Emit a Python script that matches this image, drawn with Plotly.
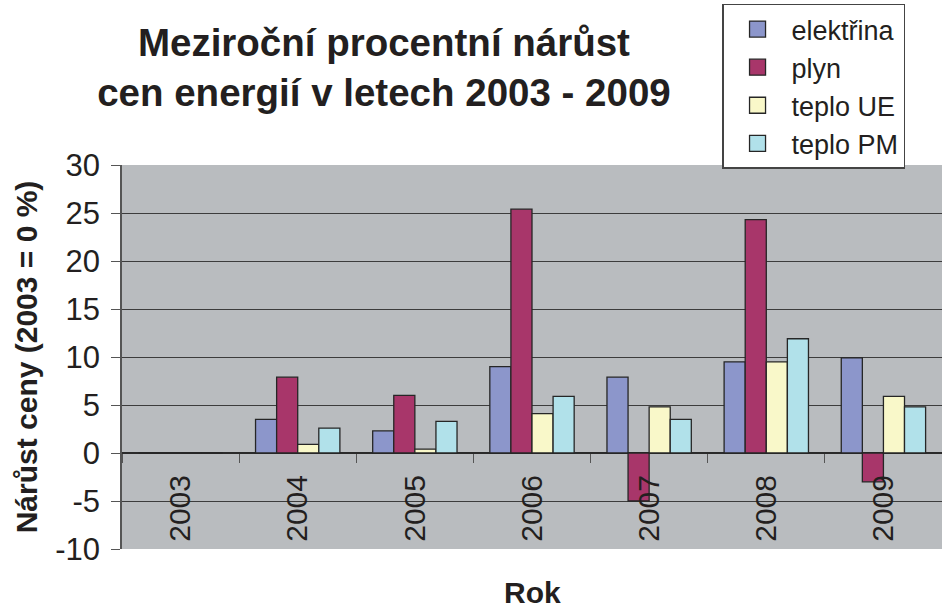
import plotly.graph_objects as go

years = ["2003", "2004", "2005", "2006", "2007", "2008", "2009"]
elektrina = [0, 3.5, 2.3, 9.0, 7.9, 9.5, 9.9]
plyn = [0, 7.9, 6.0, 25.4, -5.0, 24.3, -3.0]
teplo_ue = [0, 0.9, 0.4, 4.1, 4.8, 9.5, 5.9]
teplo_pm = [0, 2.6, 3.3, 5.9, 3.5, 11.9, 4.8]

series_names = ["elektřina", "plyn", "teplo UE", "teplo PM"]
series_colors = ["#8c96cb", "#a8366a", "#f9f8c9", "#b1e1ea"]
series_values = [elektrina, plyn, teplo_ue, teplo_pm]

y_tick_vals = [-10, -5, 0, 5, 10, 15, 20, 25, 30]
y_tick_labels = ["-10", "-5", "0", "5", "10", "15", "20", "25", "30"]

FONT = "Liberation Sans, Arial, sans-serif"
INK = "#231f20"
EDGE = "#262626"

fig = go.Figure()
for name, color, vals in zip(series_names, series_colors, series_values):
    fig.add_trace(go.Bar(
        x=years, y=vals, name=name, showlegend=False, legendgroup=name,
        marker=dict(color=color, line=dict(color=EDGE, width=1.3)),
    ))
# legend entries with larger square swatches
for name, color in zip(series_names, series_colors):
    fig.add_trace(go.Scatter(
        x=[None], y=[None], mode="markers", name=name, legendgroup=name,
        marker=dict(symbol="square", size=22, color=color,
                    line=dict(color=EDGE, width=1.3)),
        hoverinfo="skip",
    ))

fig.update_layout(
    width=942, height=610,
    margin=dict(l=122, r=0, t=165, b=61),
    paper_bgcolor="white",
    plot_bgcolor="#b9bcbf",
    barmode="group", bargap=0.28, bargroupgap=0,
    font=dict(family=FONT, color=INK, size=30),
    title=dict(
        text="<b>Meziroční procentní nárůst<br>cen energií v letech 2003 - 2009</b>",
        font=dict(family=FONT, size=38.5, color=INK),
        x=0.4076, xanchor="center", xref="container",
        y=0.909, yanchor="top", yref="container",
    ),
    legend=dict(
        x=0.732, xanchor="left", y=1.42, yanchor="top",
        bgcolor="white", bordercolor="#444444", borderwidth=1.3,
        font=dict(family=FONT, size=27, color=INK),
        tracegroupgap=0, itemsizing="trace", itemwidth=58,
        entrywidth=230, entrywidthmode="pixels",
    ),
    showlegend=True,
)

fig.update_yaxes(
    range=[-10, 30], tickvals=y_tick_vals, ticktext=y_tick_labels,
    showgrid=True, gridcolor="#3c3c3c", gridwidth=1.2,
    zeroline=True, zerolinecolor="#2a2a2a", zerolinewidth=1.5,
    showline=True, linecolor="#555555", linewidth=1.5,
    ticks="outside", ticklen=9, tickcolor="#555555",
    ticklabelstandoff=5,
    tickfont=dict(family=FONT, size=31, color=INK),
    title=dict(text="<b>Nárůst ceny (2003 = 0 %)</b>",
               font=dict(family=FONT, size=30, color=INK), standoff=9),
    automargin=False,
)

fig.update_xaxes(
    type="category",
    anchor="free", position=0.25,
    showline=False, showgrid=False,
    ticks="outside", tickson="boundaries", ticklen=9, tickcolor="#555555",
    tickangle=-90, ticklabelstandoff=15,
    tickfont=dict(family=FONT, size=30, color=INK),
    automargin=False,
)

fig.add_annotation(
    text="<b>Rok</b>", xref="paper", yref="paper", x=0.5, y=-0.066,
    xanchor="center", yanchor="top", showarrow=False,
    font=dict(family=FONT, size=30, color=INK),
)

fig.write_html("out.html", config={"displayModeBar": False},
               post_script="document.body.style.margin='0px';")
